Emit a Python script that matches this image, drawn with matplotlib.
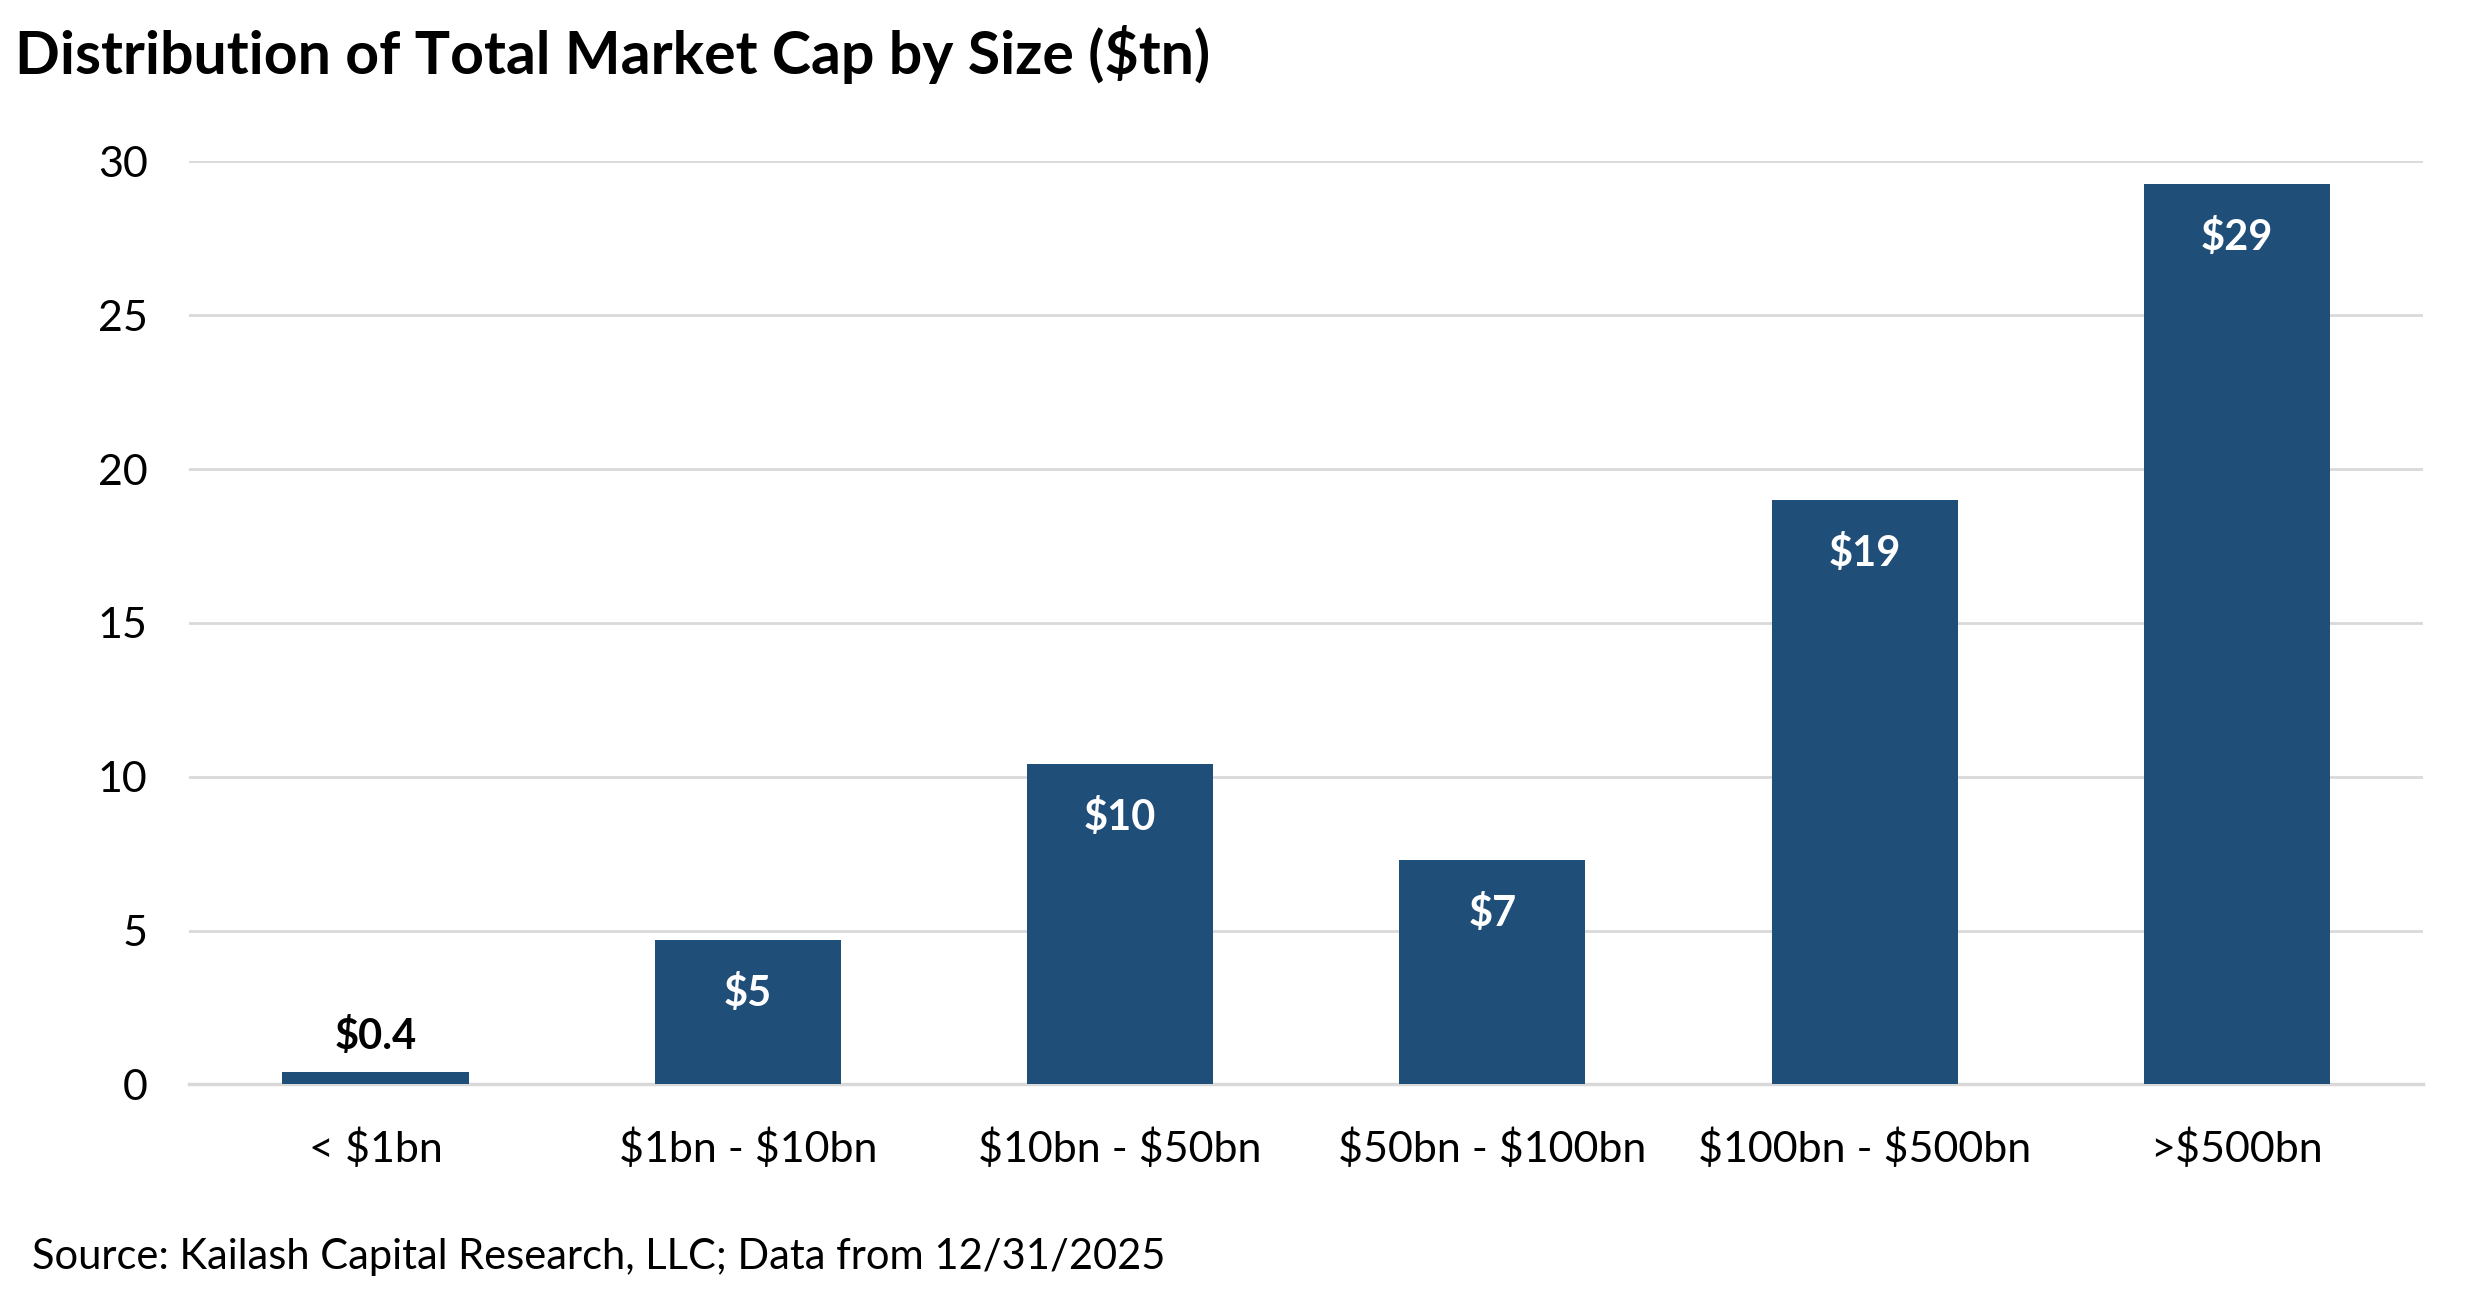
import matplotlib.pyplot as plt

plt.rcParams['font.family'] = ['Lato', 'DejaVu Sans']
plt.rcParams['text.parse_math'] = False

# market cap buckets and total cap in $tn
categories = ['< $1bn', '$1bn - $10bn', '$10bn - $50bn', '$50bn - $100bn', '$100bn - $500bn', '>$500bn']
values = [0.42, 4.7, 10.4, 7.3, 19.0, 29.25]
labels = ['$0.4', '$5', '$10', '$7', '$19', '$29']

bar_color = '#1F4E79'
grid_color = '#D9D9D9'

fig = plt.figure(figsize=(24.75, 12.91), dpi=100)
ax = fig.add_axes([0.0765, 0.160, 0.9025, 0.715])

x = range(len(categories))
bars = ax.bar(x, values, width=0.5, color=bar_color, zorder=3)

for i in range(len(values)):
    if values[i] < 2:
        ax.text(i, values[i] + 0.5, labels[i], ha='center', va='bottom',
                fontsize=30, fontweight='bold', color='black')
    else:
        ax.text(i, values[i] - 1.1, labels[i], ha='center', va='top',
                fontsize=30, fontweight='bold', color='white')

ax.set_xlim(-0.5, len(categories) - 0.5)
ax.set_ylim(0, 30)
ax.set_yticks([0, 5, 10, 15, 20, 25, 30])
ax.set_xticks(list(x))
ax.set_xticklabels(categories)
ax.tick_params(axis='both', length=0, labelsize=31)
ax.tick_params(axis='x', pad=32)
ax.tick_params(axis='y', pad=30)
ax.yaxis.grid(True, color=grid_color, linewidth=2, zorder=0)
for s in ['top', 'right', 'left']:
    ax.spines[s].set_visible(False)
ax.spines['bottom'].set_color(grid_color)
ax.spines['bottom'].set_linewidth(2.5)

fig.text(0.006, 0.958, 'Distribution of Total Market Cap by Size ($tn)',
         fontsize=42.5, fontweight='bold', ha='left', va='center')
fig.text(0.013, 0.012, 'Source: Kailash Capital Research, LLC; Data from 12/31/2025',
         fontsize=30, ha='left', va='bottom')

plt.savefig('out.png', dpi=100)
